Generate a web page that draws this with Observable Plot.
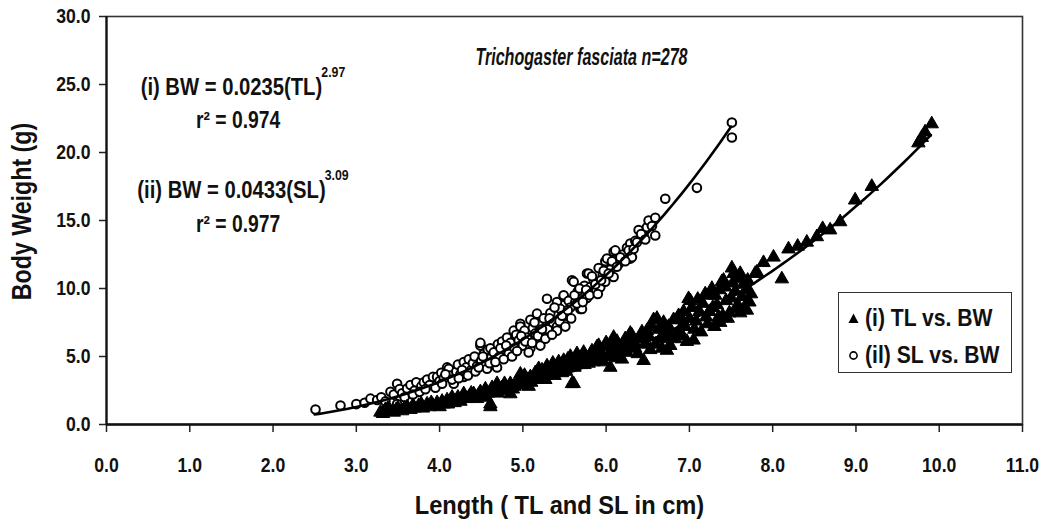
<!DOCTYPE html>
<html>
<head>
<meta charset="utf-8">
<script src="https://cdn.jsdelivr.net/npm/d3@7"></script>
<script src="https://cdn.jsdelivr.net/npm/@observablehq/plot@0.6"></script>
<style>
  html, body { margin: 0; padding: 0; background: #fff; }
  #wrap { position: relative; width: 1047px; height: 525px; overflow: hidden; }
  .legend { position: absolute; left: 838px; top: 292px; width: 174px; height: 81px;
    border: 1.5px solid #333; background: #fff; box-sizing: border-box;
    font-family: "Liberation Sans", Arial, sans-serif; font-weight: bold; font-size: 24px; color: #111; }
  .legend .row { position: absolute; left: 9px; height: 26px; display: flex; align-items: center; white-space: nowrap; }
  .legend .row span { display: inline-block; margin-left: 6px; transform: scaleX(0.88); transform-origin: left center; }
</style>
</head>
<body>
<div id="wrap"></div>
<script>
// ---- data ----
// SL vs BW (open circles): [SL cm, BW g]
const slPoints = [
  [2.51,1.1],[2.81,1.4],[3.00,1.5],[3.10,1.6],[3.17,1.9],[3.25,1.8],[3.30,2.0],[3.35,1.7],[3.41,2.4],[3.45,2.2],
  [3.49,3.0],[3.49,1.5],[3.52,2.6],[3.55,2.3],[3.61,2.65],[3.65,2.9],[3.70,2.5],[3.72,3.1],[3.78,2.8],[3.81,3.1],
  [3.85,3.3],[3.88,2.9],[3.92,3.5],[3.97,3.5],[4.00,3.2],[4.02,3.8],[4.05,3.4],[4.09,4.2],[4.11,4.1],[4.13,3.6],
  [4.17,3.0],[4.20,3.9],[4.22,4.4],[4.25,3.7],[4.29,4.6],[4.29,3.5],[4.32,4.2],[4.35,4.8],[4.38,4.0],[4.40,4.5],
  [4.42,5.0],[4.45,4.3],[4.49,5.8],[4.49,6.0],[4.50,4.7],[4.53,5.2],[4.55,4.4],[4.58,5.5],[4.61,5.6],[4.62,4.9],
  [4.65,5.3],[4.69,4.2],[4.70,5.9],[4.72,5.0],[4.75,6.1],[4.78,5.5],[4.81,6.4],[4.83,5.2],[4.85,6.0],[4.89,6.9],
  [4.90,5.6],[4.92,6.6],[4.95,6.2],[4.97,7.4],[4.97,7.2],[5.00,5.8],[5.02,6.9],[5.05,6.4],[5.09,7.7],[5.09,5.6],
  [5.12,7.1],[5.15,6.7],[5.17,8.15],[5.19,7.4],[5.21,6.2],[5.21,5.8],[5.25,7.8],[5.29,9.25],[5.30,7.0],[5.33,8.2],
  [5.36,7.5],[5.41,9.0],[5.41,7.2],[5.41,6.9],[5.45,8.5],[5.49,9.4],[5.49,9.5],[5.52,8.0],[5.55,9.1],[5.57,8.6],
  [5.59,10.6],[5.61,10.5],[5.63,9.0],[5.66,9.8],[5.69,8.5],[5.71,8.5],[5.74,10.2],[5.77,11.1],[5.77,9.3],[5.79,11.1],
  [5.81,10.1],[5.85,10.6],[5.88,9.8],[5.91,11.5],[5.93,10.1],[5.96,11.0],[5.99,12.0],[5.99,10.5],[6.01,12.2],[6.05,11.4],
  [6.09,12.7],[6.09,10.85],[6.11,12.8],[6.15,11.8],[6.20,12.5],[6.25,13.0],[6.29,13.3],[6.29,12.2],[6.31,12.3],[6.35,13.5],
  [6.39,14.3],[6.45,13.9],[6.49,14.5],[6.51,15.0],[6.55,14.6],[6.59,13.9],[6.59,15.2],[6.71,16.6],[7.09,17.4],[7.51,21.1],
  [7.51,22.2],
  [3.58,2.0],[3.68,2.2],[3.76,2.4],[3.83,2.6],[3.95,2.7],[4.03,3.0],[4.07,3.7],[4.15,3.3],[4.23,3.4],[4.27,4.0],
  [4.34,3.6],[4.43,3.9],[4.47,4.2],[4.52,5.0],[4.57,4.1],[4.60,4.5],[4.67,4.6],[4.73,5.6],[4.77,4.8],[4.80,5.8],
  [4.87,5.0],[4.93,5.4],[4.98,6.5],[5.03,6.1],[5.07,5.3],[5.11,6.0],[5.14,7.5],[5.18,6.5],[5.23,7.0],[5.27,6.3],
  [5.32,7.8],[5.35,6.6],[5.38,8.6],[5.44,7.6],[5.47,8.0],[5.51,7.2],[5.54,8.4],[5.58,7.8],[5.62,9.5],[5.65,8.9],
  [5.68,10.0],[5.72,9.0],[5.76,9.9],[5.80,9.5],[5.83,10.9],[5.87,10.3],[5.90,9.6],[5.94,10.6],[5.97,11.3],[6.03,11.1],
  [6.07,12.0],[6.13,11.6],[6.17,12.3],[6.23,12.0],[6.27,12.8],[6.33,12.9],[6.37,13.4],[6.42,14.0],[6.47,13.6]
];
// TL vs BW (filled triangles): [TL cm, BW g]
const tlPoints = [
  [3.29,0.9],[3.32,0.8],[3.35,1.1],[3.41,1.0],[3.45,0.9],[3.50,1.2],[3.55,1.0],[3.61,1.3],[3.65,1.1],[3.70,1.2],
  [3.75,1.4],[3.80,1.2],[3.85,1.5],[3.88,1.3],[3.92,1.4],[3.97,1.6],[4.00,1.3],[4.03,1.7],[4.09,1.8],[4.10,1.5],
  [4.13,1.8],[4.18,1.6],[4.22,2.0],[4.25,1.7],[4.29,2.25],[4.32,1.9],[4.36,2.1],[4.41,2.25],[4.45,1.9],[4.49,2.4],
  [4.52,2.1],[4.55,2.6],[4.58,2.3],[4.61,1.5],[4.61,1.3],[4.65,2.5],[4.69,3.0],[4.70,2.3],[4.75,2.7],[4.80,2.5],
  [4.85,2.25],[4.85,3.0],[4.90,2.8],[4.93,3.2],[4.97,3.4],[4.97,3.7],[5.00,2.9],[5.05,3.3],[5.09,3.5],[5.10,3.1],
  [5.15,3.8],[5.19,4.1],[5.20,3.4],[5.25,3.6],[5.29,4.2],[5.29,4.3],[5.32,3.8],[5.36,4.5],[5.40,4.0],[5.45,4.2],
  [5.49,4.3],[5.49,4.7],[5.52,3.9],[5.57,4.5],[5.57,5.0],[5.59,3.0],[5.61,3.0],[5.62,4.2],[5.65,5.2],[5.68,4.6],
  [5.71,5.0],[5.74,4.4],[5.77,4.7],[5.81,5.1],[5.85,4.6],[5.89,5.7],[5.91,5.8],[5.95,5.0],[6.01,5.7],[6.05,4.2],
  [6.05,5.3],[6.09,5.8],[6.09,6.4],[6.11,5.8],[6.15,4.9],[6.21,5.9],[6.25,5.3],[6.29,6.55],[6.29,6.7],[6.31,6.55],
  [6.35,5.6],[6.41,6.3],[6.45,4.7],[6.49,6.9],[6.53,5.5],[6.57,7.7],[6.61,7.8],[6.65,6.3],[6.70,7.0],[6.73,5.45],
  [6.78,6.6],[6.81,7.7],[6.85,7.7],[6.88,6.9],[6.91,7.7],[6.95,7.2],[6.99,9.25],[7.01,9.1],[7.05,6.2],[7.08,7.6],
  [7.12,8.3],[7.19,9.6],[7.22,7.4],[7.25,9.5],[7.28,8.6],[7.31,9.5],[7.35,7.9],[7.37,7.5],[7.39,10.5],[7.41,10.6],
  [7.44,9.1],[7.48,8.2],[7.51,11.5],[7.53,11.1],[7.55,9.8],[7.58,8.8],[7.61,11.1],[7.61,8.2],[7.65,10.3],[7.69,9.9],
  [7.69,8.4],[7.72,9.0],[7.79,11.1],[7.81,11.2],[7.89,11.9],[8.01,12.3],[8.11,10.7],[8.19,12.9],[8.30,13.1],[8.41,13.4],
  [8.53,13.8],[8.60,14.4],[8.69,14.3],[8.81,14.9],[8.99,16.5],[9.19,17.5],[9.75,20.7],[9.79,21.1],[9.83,21.5],[9.91,22.1],
  [3.38,1.2],[3.48,1.1],[3.58,1.2],[3.68,1.4],[3.78,1.5],[3.90,1.6],[4.05,1.5],[4.15,2.0],[4.27,1.9],[4.38,2.3],
  [4.47,2.2],[4.56,2.0],[4.63,2.7],[4.72,2.6],[4.78,3.0],[4.88,2.6],[4.95,3.0],[5.02,3.6],[5.07,2.8],[5.13,3.3],
  [5.17,3.6],[5.23,4.0],[5.27,3.3],[5.34,4.1],[5.38,3.6],[5.43,4.6],[5.47,3.8],[5.54,4.8],[5.60,4.3],[5.64,4.8],
  [5.70,4.4],[5.73,5.3],[5.79,4.5],[5.83,5.4],[5.87,5.0],[5.93,5.4],[5.97,4.6],[6.00,6.0],[6.03,5.0],[6.07,5.5],
  [6.13,6.1],[6.17,5.4],[6.19,4.8],[6.23,6.3],[6.27,5.8],[6.33,6.1],[6.38,5.2],[6.43,6.8],[6.47,5.9],[6.51,6.5],
  [6.55,7.2],[6.59,5.9],[6.63,7.0],[6.67,5.6],[6.69,7.5],[6.72,6.4],[6.75,7.2],[6.77,5.8],[6.83,6.3],[6.87,8.0],
  [6.90,6.5],[6.93,8.3],[6.97,6.1],[7.00,7.8],[7.03,8.6],[7.06,7.0],[7.10,9.2],[7.14,6.8],[7.16,8.9],[7.20,7.9],
  [7.24,8.3],[7.27,10.0],[7.30,7.2],[7.33,8.8],[7.36,9.9],[7.40,8.0],[7.43,10.1],[7.46,7.8],[7.50,9.3],[7.52,10.4],
  [7.56,8.5],[7.59,10.7],[7.63,9.4],[7.66,8.6],[7.70,10.6],[7.74,9.6]
];
// fitted power curves BW = a * L^b (coefficients printed on the chart)
const fitNames = ["TL", "SL"];
const fitA = [0.0235, 0.0433];
const fitB = [2.97, 3.09];
const fitRange = [[3.3, 9.9], [2.5, 7.5]];
// tick labels
const xTicks = [0,1,2,3,4,5,6,7,8,9,10,11];
const yTicks = [0,5,10,15,20,25,30];
// texts
const chartTitle = "Trichogaster fasciata n=278";
const xLabel = "Length ( TL and SL in cm)";
const yLabel = "Body Weight (g)";
const eqMain = ["(i) BW = 0.0235(TL)", "(ii) BW = 0.0433(SL)"];
const eqSup = ["2.97", "3.09"];
const r2Text = ["r² = 0.974", "r² = 0.977"];
const legendLabels = ["(i) TL vs. BW", "(il) SL vs. BW"];

// ---- build ----
const sl = slPoints.map(([x, y]) => ({x, y}));
const tl = tlPoints.map(([x, y]) => ({x, y}));
const curves = fitNames.map((name, i) => {
  const [lo, hi] = fitRange[i];
  return d3.range(0, 101).map(k => {
    const x = lo + (hi - lo) * k / 100;
    return {name, x, y: fitA[i] * Math.pow(x, fitB[i])};
  });
}).flat();

const FONT = '"Liberation Sans", Arial, sans-serif';
const eqAnchors = [{x: 0.41, y: 24.8}, {x: 0.37, y: 17.2}];
const r2Anchors = [{x: 1.58, y: 22.35}, {x: 1.58, y: 14.7}];
const eqData = eqMain.map((t, i) => ({...eqAnchors[i], t}));
const r2Data = r2Text.map((t, i) => ({...r2Anchors[i], t}));

const chart = Plot.plot({
  width: 1047,
  height: 525,
  marginLeft: 106,
  marginRight: 25,
  marginTop: 16,
  marginBottom: 101,
  style: {fontFamily: FONT, background: "#fff", color: "#111"},
  x: {domain: [0, 11]},
  y: {domain: [0, 30]},
  marks: [
    Plot.frame({stroke: "#333", strokeWidth: 1.6}),
    Plot.dot(sl, {x: "x", y: "y", r: 4.3, fill: "#fff", stroke: "#000", strokeWidth: 2}),
    Plot.dot(tl, {x: "x", y: "y", symbol: "triangle", r: 5, fill: "#000", stroke: "#000", strokeWidth: 1}),
    Plot.line(curves, {x: "x", y: "y", z: "name", stroke: "#000", strokeWidth: 2.6, curve: "linear"}),
    Plot.axisX({ticks: xTicks, tickFormat: d => d.toFixed(1), tickSize: 8, tickPadding: 25,
      fontSize: 21, fontWeight: "bold", label: null, stroke: "#222", strokeWidth: 1.5}),
    Plot.axisY({ticks: yTicks, tickFormat: d => d.toFixed(1), tickSize: 7, tickPadding: 9,
      fontSize: 21, fontWeight: "bold", label: null, stroke: "#222", strokeWidth: 1.5}),
    Plot.ruleY([0], {stroke: "#111", strokeWidth: 2.4}),
    Plot.ruleX([0], {stroke: "#111", strokeWidth: 2.2}),
    Plot.text([xLabel], {frameAnchor: "bottom", lineAnchor: "middle", dx: -5, dy: 81, fontSize: 26, fontWeight: "bold", fill: "#111"}),
    Plot.text([yLabel], {frameAnchor: "left", textAnchor: "middle", lineAnchor: "middle", rotate: -90, dx: -84, dy: -9,
      fontSize: 27, fontWeight: "bold", fill: "#111"}),
    Plot.text([chartTitle], {x: () => 4.43, y: () => 26.95, text: d => d, textAnchor: "start",
      fontSize: 23, fontWeight: "bold", fontStyle: "italic", fill: "#111"}),
    Plot.text(eqData, {x: "x", y: "y", text: "t", textAnchor: "start", fontSize: 23, fontWeight: "bold", fill: "#111"}),
    Plot.text(r2Data, {x: "x", y: "y", text: "t", textAnchor: "middle", fontSize: 23, fontWeight: "bold", fill: "#111"})
  ]
});

const wrap = document.getElementById("wrap");
wrap.appendChild(chart);

// narrow (condensed) lettering like the original: scale each text about its anchor
const SVGNS = "http://www.w3.org/2000/svg";
const texts = Array.from(chart.querySelectorAll("text"));
texts.forEach(el => {
  const content = el.textContent;
  let f = 0.84, vertical = false;
  if (content === chartTitle) f = 0.70;
  if (content === xLabel) f = 0.91;
  if (content === yLabel) { f = 0.86; vertical = true; }
  if (eqMain.includes(content)) f = 0.88;
  const m = el.transform.baseVal.consolidate();
  const ex = m ? m.matrix.e : 0, ey = m ? m.matrix.f : 0;
  const g = document.createElementNS(SVGNS, "g");
  g.setAttribute("transform",
    `translate(${ex},${ey}) scale(${vertical ? 1 : f},${vertical ? f : 1}) translate(${-ex},${-ey})`);
  el.parentNode.insertBefore(g, el);
  g.appendChild(el);
  const k = eqMain.indexOf(content);
  if (k >= 0) {
    const len = el.getComputedTextLength();
    const sup = document.createElementNS(SVGNS, "text");
    sup.setAttribute("transform", `translate(${(ex + len - 1).toFixed(1)},${(ey - 15).toFixed(1)})`);
    sup.setAttribute("font-size", "14");
    sup.setAttribute("text-anchor", "start");
    sup.setAttribute("dy", "0.32em");
    sup.textContent = eqSup[k];
    g.appendChild(sup);
  }
});

// legend
const legend = document.createElement("div");
legend.className = "legend";
const symbols = [
  '<svg width="11" height="11"><path d="M5.5 0.5 L10.5 10 L0.5 10 Z" fill="#000"/></svg>',
  '<svg width="11" height="11"><circle cx="5.5" cy="5.5" r="3.6" fill="#fff" stroke="#000" stroke-width="1.6"/></svg>'
];
legendLabels.forEach((lab, i) => {
  const row = document.createElement("div");
  row.className = "row";
  row.style.top = (i === 0 ? 12 : 49) + "px";
  row.innerHTML = symbols[i] + "<span>" + lab + "</span>";
  legend.appendChild(row);
});
wrap.appendChild(legend);
</script>
</body>
</html>
